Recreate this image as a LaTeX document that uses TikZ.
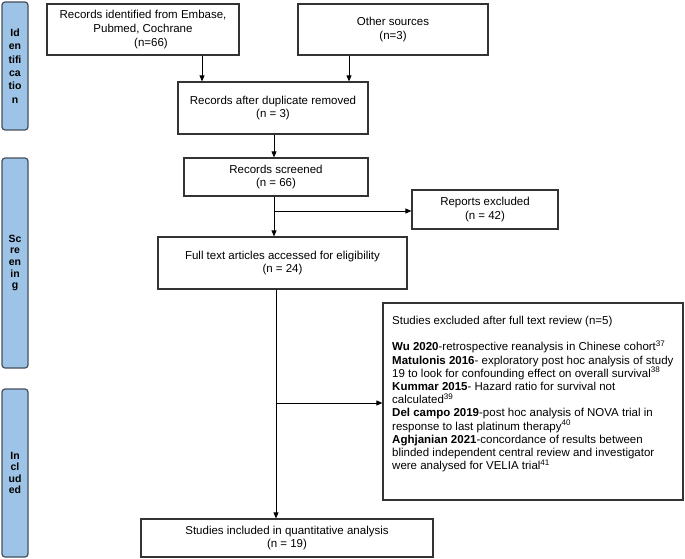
\documentclass[tikz,border=0pt]{standalone}
\usepackage{fontspec}
\setmainfont{Liberation Sans}
\usetikzlibrary{arrows.meta}
\definecolor{phaseblue}{HTML}{9DC3E6}
\definecolor{phaseline}{HTML}{45505C}

\begin{document}
\begin{tikzpicture}[x=1pt, y=-1pt, >={Triangle[length=6pt,width=5pt]},
		every node/.style={font=\fontsize{11.5}{13.6}\selectfont},
		box/.style={draw=black!80, line width=1.2pt, fill=white, align=center, inner sep=0pt},
		phase/.style={draw=phaseline, line width=1.2pt, fill=phaseblue, rounded corners=3pt,
			minimum width=26pt, inner sep=0pt, align=center, font=\fontsize{10.5}{11.6}\selectfont\bfseries},
		link/.style={->, line width=0.8pt}]
				\useasboundingbox (0,0) rectangle (685,559);
				
				% 1. 阶段色条（最左侧）
				\node[phase, minimum height=128pt, font=\fontsize{10.5}{13.4}\selectfont\bfseries] (ident) at (15,66) {Id\\en\\tifi\\ca\\tio\\n};
				\node[phase, minimum height=210pt] (screen) at (15,263) {Sc\\re\\en\\in\\g};
				\node[phase, minimum height=168pt] (incl) at (15,473) {In\\cl\\ud\\ed};
				
				% 2. 流程框
				\node[box, minimum width=192pt, minimum height=51pt] (found) at (143,29.5) {Records identified from Embase,\\Pubmed, Cochrane\\\hspace*{16pt}(n=66)};
				\node[box, minimum width=190pt, minimum height=51pt] (other) at (393,29.5) {Other sources\\(n=3)};
				\node[box, minimum width=190pt, minimum height=52pt] (dedup) at (273,108) {Records after duplicate removed\\(n = 3)};
				\node[box, minimum width=184pt, minimum height=38pt] (screened) at (276,177) {Records screened\\(n = 66)};
				\node[box, minimum width=146pt, minimum height=39pt] (repexcl) at (485,209.5) {Reports excluded\\(n = 42)};
				\node[box, minimum width=249pt, minimum height=52pt] (fulltext) at (282.5,263) {Full text articles accessed for eligibility\\(n = 24)};
				\node[box, minimum width=300pt, minimum height=197pt] (studexcl) at (533,401.5) {};
				\node[anchor=north west, inner sep=0pt, align=left, font=\fontsize{11.5}{13.2}\selectfont] (studtext) at (392,316)
					{Studies excluded after full text review (n=5)\\[13.2pt]
					\textbf{Wu 2020}-retrospective reanalysis in Chinese cohort\textsuperscript{37}\\
					\textbf{Matulonis 2016}- exploratory post hoc analysis of study\\
					19 to look for confounding effect on overall survival\textsuperscript{38}\\
					\textbf{Kummar 2015}- Hazard ratio for survival not\\
					calculated\textsuperscript{39}\\
					\textbf{Del campo 2019}-post hoc analysis of NOVA trial in\\
					response to last platinum therapy\textsuperscript{40}\\
					\textbf{Aghjanian 2021}-concordance of results between\\
					blinded independent central review and investigator\\
					were analysed for VELIA trial\textsuperscript{41}};
				\node[box, minimum width=292pt, minimum height=38pt] (included) at (287,538) {Studies included in quantitative analysis\\(n = 19)};
				
				% 3. 连线（分支点用坐标命名）
				\coordinate (c1) at (202,0);
				\coordinate (c2) at (349,0);
				\coordinate (c3) at (274,0);
				\coordinate (c4) at (276,0);
				\coordinate (split1) at (274,211);
				\coordinate (split2) at (276,403);
				\draw[link] (found.south -| c1) -- (dedup.north -| c1);
				\draw[link] (other.south -| c2) -- (dedup.north -| c2);
				\draw[link] (dedup.south -| c3) -- (screened.north -| c3);
				\draw[link] (screened.south -| c3) -- (fulltext.north -| c3);
				\draw[link] (split1) -- (split1 -| repexcl.west);
				\draw[link] (fulltext.south -| c4) -- (included.north -| c4);
				\draw[link] (split2) -- (split2 -| studexcl.west);
			\end{tikzpicture}
\end{document}
